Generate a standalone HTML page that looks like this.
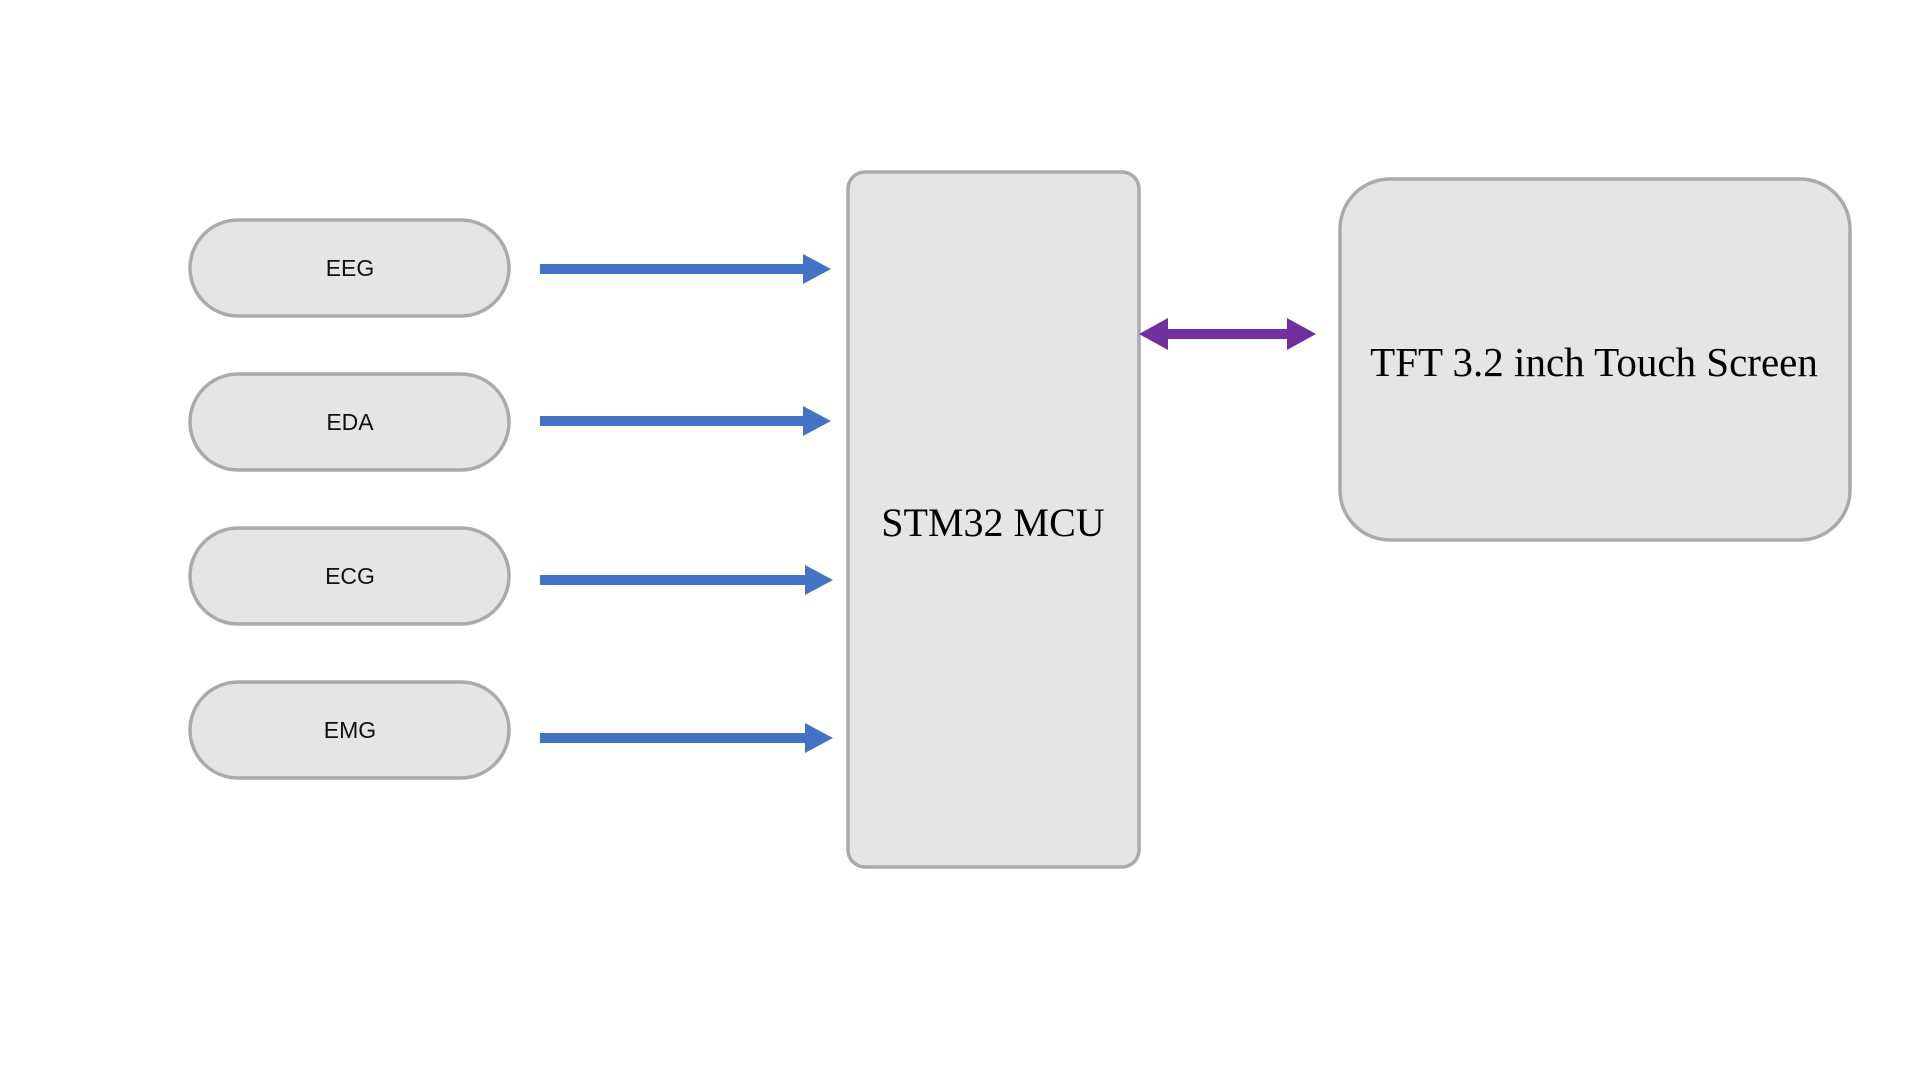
<!DOCTYPE html>
<html><head><meta charset="utf-8"><style>
html,body{margin:0;padding:0;background:#fff;width:1920px;height:1080px;overflow:hidden}
svg{display:block}
</style></head><body>
<svg width="1920" height="1080" viewBox="0 0 1920 1080" xmlns="http://www.w3.org/2000/svg">
<g fill="#e5e5e5" stroke="#aaaaaa" stroke-width="3.5">
<rect x="190" y="220" width="319" height="96" rx="48"/>
<rect x="190" y="374" width="319" height="96" rx="48"/>
<rect x="190" y="528" width="319" height="96" rx="48"/>
<rect x="190" y="682" width="319" height="96" rx="48"/>
<rect x="848" y="172" width="291" height="695" rx="17"/>
<rect x="1340" y="179" width="510" height="361" rx="50"/>
</g>
<g font-family="'Liberation Sans',sans-serif" font-size="23" text-anchor="middle" fill="#111">
<text x="350" y="276">EEG</text>
<text x="350" y="430">EDA</text>
<text x="350" y="584">ECG</text>
<text x="350" y="738">EMG</text>
</g>
<g font-family="'Liberation Serif',serif" text-anchor="middle" fill="#000">
<text x="993" y="536" font-size="40">STM32 MCU</text>
<text x="1594" y="376" font-size="41">TFT 3.2 inch Touch Screen</text>
</g>
<g fill="#4472c4">
<path d="M540 264 H803 V254 L831 269 L803 284 V274 H540 Z"/>
<path d="M540 416 H803 V406 L831 421 L803 436 V426 H540 Z"/>
<path d="M540 575 H805 V565 L833 580 L805 595 V585 H540 Z"/>
<path d="M540 733 H805 V723 L833 738 L805 753 V743 H540 Z"/>
</g>
<path fill="#7030a0" d="M1139 334 L1168 318 V329 H1287 V318 L1316 334 L1287 350 V339 H1168 V350 Z"/>
</svg>
</body></html>
